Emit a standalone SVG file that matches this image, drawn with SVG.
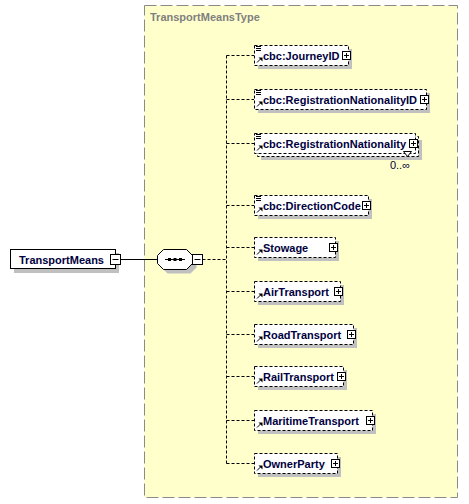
<svg xmlns="http://www.w3.org/2000/svg" width="469" height="504" viewBox="0 0 469 504">
<style>
.bg{fill:#fff}
.type{fill:#FFFFCC;stroke:#8a8a8a;stroke-width:1;stroke-dasharray:12,4}
.shadow{fill:#C0C0C0}
.box{fill:#fff;stroke:#000;stroke-width:1;stroke-dasharray:3,2}
.solid{fill:#fff;stroke:#000;stroke-width:1}
.btn{fill:#fff;stroke:#000;stroke-width:1}
.ln{fill:none;stroke:#000;stroke-width:1}
.dash{fill:none;stroke:#000;stroke-width:1;stroke-dasharray:3,2}
.lbl{font-family:"Liberation Sans",Arial,sans-serif;font-size:11px;font-weight:bold;fill:#000040}
.ttl{font-family:"Liberation Sans",Arial,sans-serif;font-size:11px;font-weight:bold;fill:#808080}
.card{font-family:"Liberation Sans",Arial,sans-serif;font-size:11px;fill:#000040}
.icon{fill:none;stroke:#000;stroke-width:1}
</style>
<defs>
<g id="ref"><path class="icon" d="M3,17.5 L6.5,14"/><polygon points="4.5,12.5 8.5,12.5 8.5,16.5" fill="#000"/></g>
<g id="simple"><path class="icon" d="M2,1.5h5M2,3.5h5M2,5.5h5"/></g>
</defs>
<rect class="bg" x="0" y="0" width="469" height="504"/>
<g id="TransportMeansType">
<rect class="type" x="144.5" y="5.5" width="313" height="492"/>
<text class="ttl" x="150" y="21">TransportMeansType</text>
</g>
<g id="connectors">
<path class="ln" d="M120.5,259.5H157.5"/>
<path class="dash" d="M202.5,259.5H226.5"/>
<path class="dash" d="M226.5,55.5V463.5"/>
<path class="dash" d="M226.5,55.5H254M226.5,99.5H254M226.5,143.5H254M226.5,205.5H254M226.5,247.5H254M226.5,291.5H254M226.5,334.5H254M226.5,376.5H254M226.5,420.5H254M226.5,463.5H254"/>
</g>
<g id="TransportMeans">
<rect class="shadow" x="14" y="253" width="105" height="20"/>
<rect class="solid" x="10.5" y="249.5" width="105" height="19"/>
<text class="lbl" x="19" y="263.5">TransportMeans</text>
<rect class="btn" x="110.5" y="254.5" width="10" height="10"/>
<path class="ln" d="M112.5,259.5H118.5"/>
</g>
<g id="sequence">
<polygon class="shadow" points="167.5,253.5 190.5,253.5 196.5,259.5 196.5,267.5 190.5,273.5 167.5,273.5 161.5,267.5 161.5,259.5"/>
<polygon class="solid" points="163.5,249.5 186.5,249.5 192.5,255.5 192.5,263.5 186.5,269.5 163.5,269.5 157.5,263.5 157.5,255.5"/>
<path class="ln" d="M165,259.5H185"/>
<rect x="168" y="258" width="3" height="3" fill="#000"/>
<rect x="173.5" y="258" width="3" height="3" fill="#000"/>
<rect x="179" y="258" width="3" height="3" fill="#000"/>
<rect class="btn" x="192.5" y="254.5" width="10" height="10"/>
<path class="ln" d="M194.5,259.5H200.5"/>
</g>
<g id="JourneyID" transform="translate(254,45)">
<rect class="shadow" x="4" y="4" width="94" height="20"/>
<rect class="box" x="0.5" y="0.5" width="94" height="20"/>
<use href="#simple"/><use href="#ref"/>
<text class="lbl" x="9" y="14.5">cbc:JourneyID</text>
<rect class="btn" x="88.5" y="6.5" width="8" height="8"/><path class="ln" d="M90,10.5H95M92.5,8V13"/>
</g>
<g id="RegistrationNationalityID" transform="translate(254,89)">
<rect class="shadow" x="4" y="4" width="172" height="20"/>
<rect class="box" x="0.5" y="0.5" width="172" height="20"/>
<use href="#simple"/><use href="#ref"/>
<text class="lbl" x="9" y="14.5">cbc:RegistrationNationalityID</text>
<rect class="btn" x="166.5" y="6.5" width="8" height="8"/><path class="ln" d="M168,10.5H173M170.5,8V13"/>
</g>
<g id="RegistrationNationality" transform="translate(254,133)">
<rect class="shadow" x="7" y="7" width="161" height="20"/>
<rect class="box" x="3.5" y="3.5" width="161" height="20"/>
<rect class="box" x="0.5" y="0.5" width="161" height="20"/>
<use href="#simple"/><use href="#ref"/>
<text class="lbl" x="9" y="14.5">cbc:RegistrationNationality</text>
<rect class="btn" x="155.5" y="6.5" width="8" height="8"/><path class="ln" d="M157,10.5H162M159.5,8V13"/>
<polygon points="149.5,18.5 153.5,23.5 157.5,18.5" fill="#fff" stroke="#000" stroke-width="1"/>
<text class="card" x="156" y="36" text-anchor="end">0..∞</text>
</g>
<g id="DirectionCode" transform="translate(254,195)">
<rect class="shadow" x="4" y="4" width="114" height="20"/>
<rect class="box" x="0.5" y="0.5" width="114" height="20"/>
<use href="#simple"/><use href="#ref"/>
<text class="lbl" x="9" y="14.5">cbc:DirectionCode</text>
<rect class="btn" x="108.5" y="6.5" width="8" height="8"/><path class="ln" d="M110,10.5H115M112.5,8V13"/>
</g>
<g id="Stowage" transform="translate(254,237)">
<rect class="shadow" x="4" y="4" width="81" height="20"/>
<rect class="box" x="0.5" y="0.5" width="81" height="20"/>
<use href="#ref"/>
<text class="lbl" x="9" y="14.5">Stowage</text>
<rect class="btn" x="75.5" y="6.5" width="8" height="8"/><path class="ln" d="M77,10.5H82M79.5,8V13"/>
</g>
<g id="AirTransport" transform="translate(254,281)">
<rect class="shadow" x="4" y="4" width="86" height="20"/>
<rect class="box" x="0.5" y="0.5" width="86" height="20"/>
<use href="#ref"/>
<text class="lbl" x="9" y="14.5">AirTransport</text>
<rect class="btn" x="80.5" y="6.5" width="8" height="8"/><path class="ln" d="M82,10.5H87M84.5,8V13"/>
</g>
<g id="RoadTransport" transform="translate(254,324)">
<rect class="shadow" x="4" y="4" width="99" height="20"/>
<rect class="box" x="0.5" y="0.5" width="99" height="20"/>
<use href="#ref"/>
<text class="lbl" x="9" y="14.5">RoadTransport</text>
<rect class="btn" x="93.5" y="6.5" width="8" height="8"/><path class="ln" d="M95,10.5H100M97.5,8V13"/>
</g>
<g id="RailTransport" transform="translate(254,366)">
<rect class="shadow" x="4" y="4" width="89" height="20"/>
<rect class="box" x="0.5" y="0.5" width="89" height="20"/>
<use href="#ref"/>
<text class="lbl" x="9" y="14.5">RailTransport</text>
<rect class="btn" x="83.5" y="6.5" width="8" height="8"/><path class="ln" d="M85,10.5H90M87.5,8V13"/>
</g>
<g id="MaritimeTransport" transform="translate(254,410)">
<rect class="shadow" x="4" y="4" width="118" height="20"/>
<rect class="box" x="0.5" y="0.5" width="118" height="20"/>
<use href="#ref"/>
<text class="lbl" x="9" y="14.5">MaritimeTransport</text>
<rect class="btn" x="112.5" y="6.5" width="8" height="8"/><path class="ln" d="M114,10.5H119M116.5,8V13"/>
</g>
<g id="OwnerParty" transform="translate(254,453)">
<rect class="shadow" x="4" y="4" width="83" height="20"/>
<rect class="box" x="0.5" y="0.5" width="83" height="20"/>
<use href="#ref"/>
<text class="lbl" x="9" y="14.5">OwnerParty</text>
<rect class="btn" x="77.5" y="6.5" width="8" height="8"/><path class="ln" d="M79,10.5H84M81.5,8V13"/>
</g>
</svg>
